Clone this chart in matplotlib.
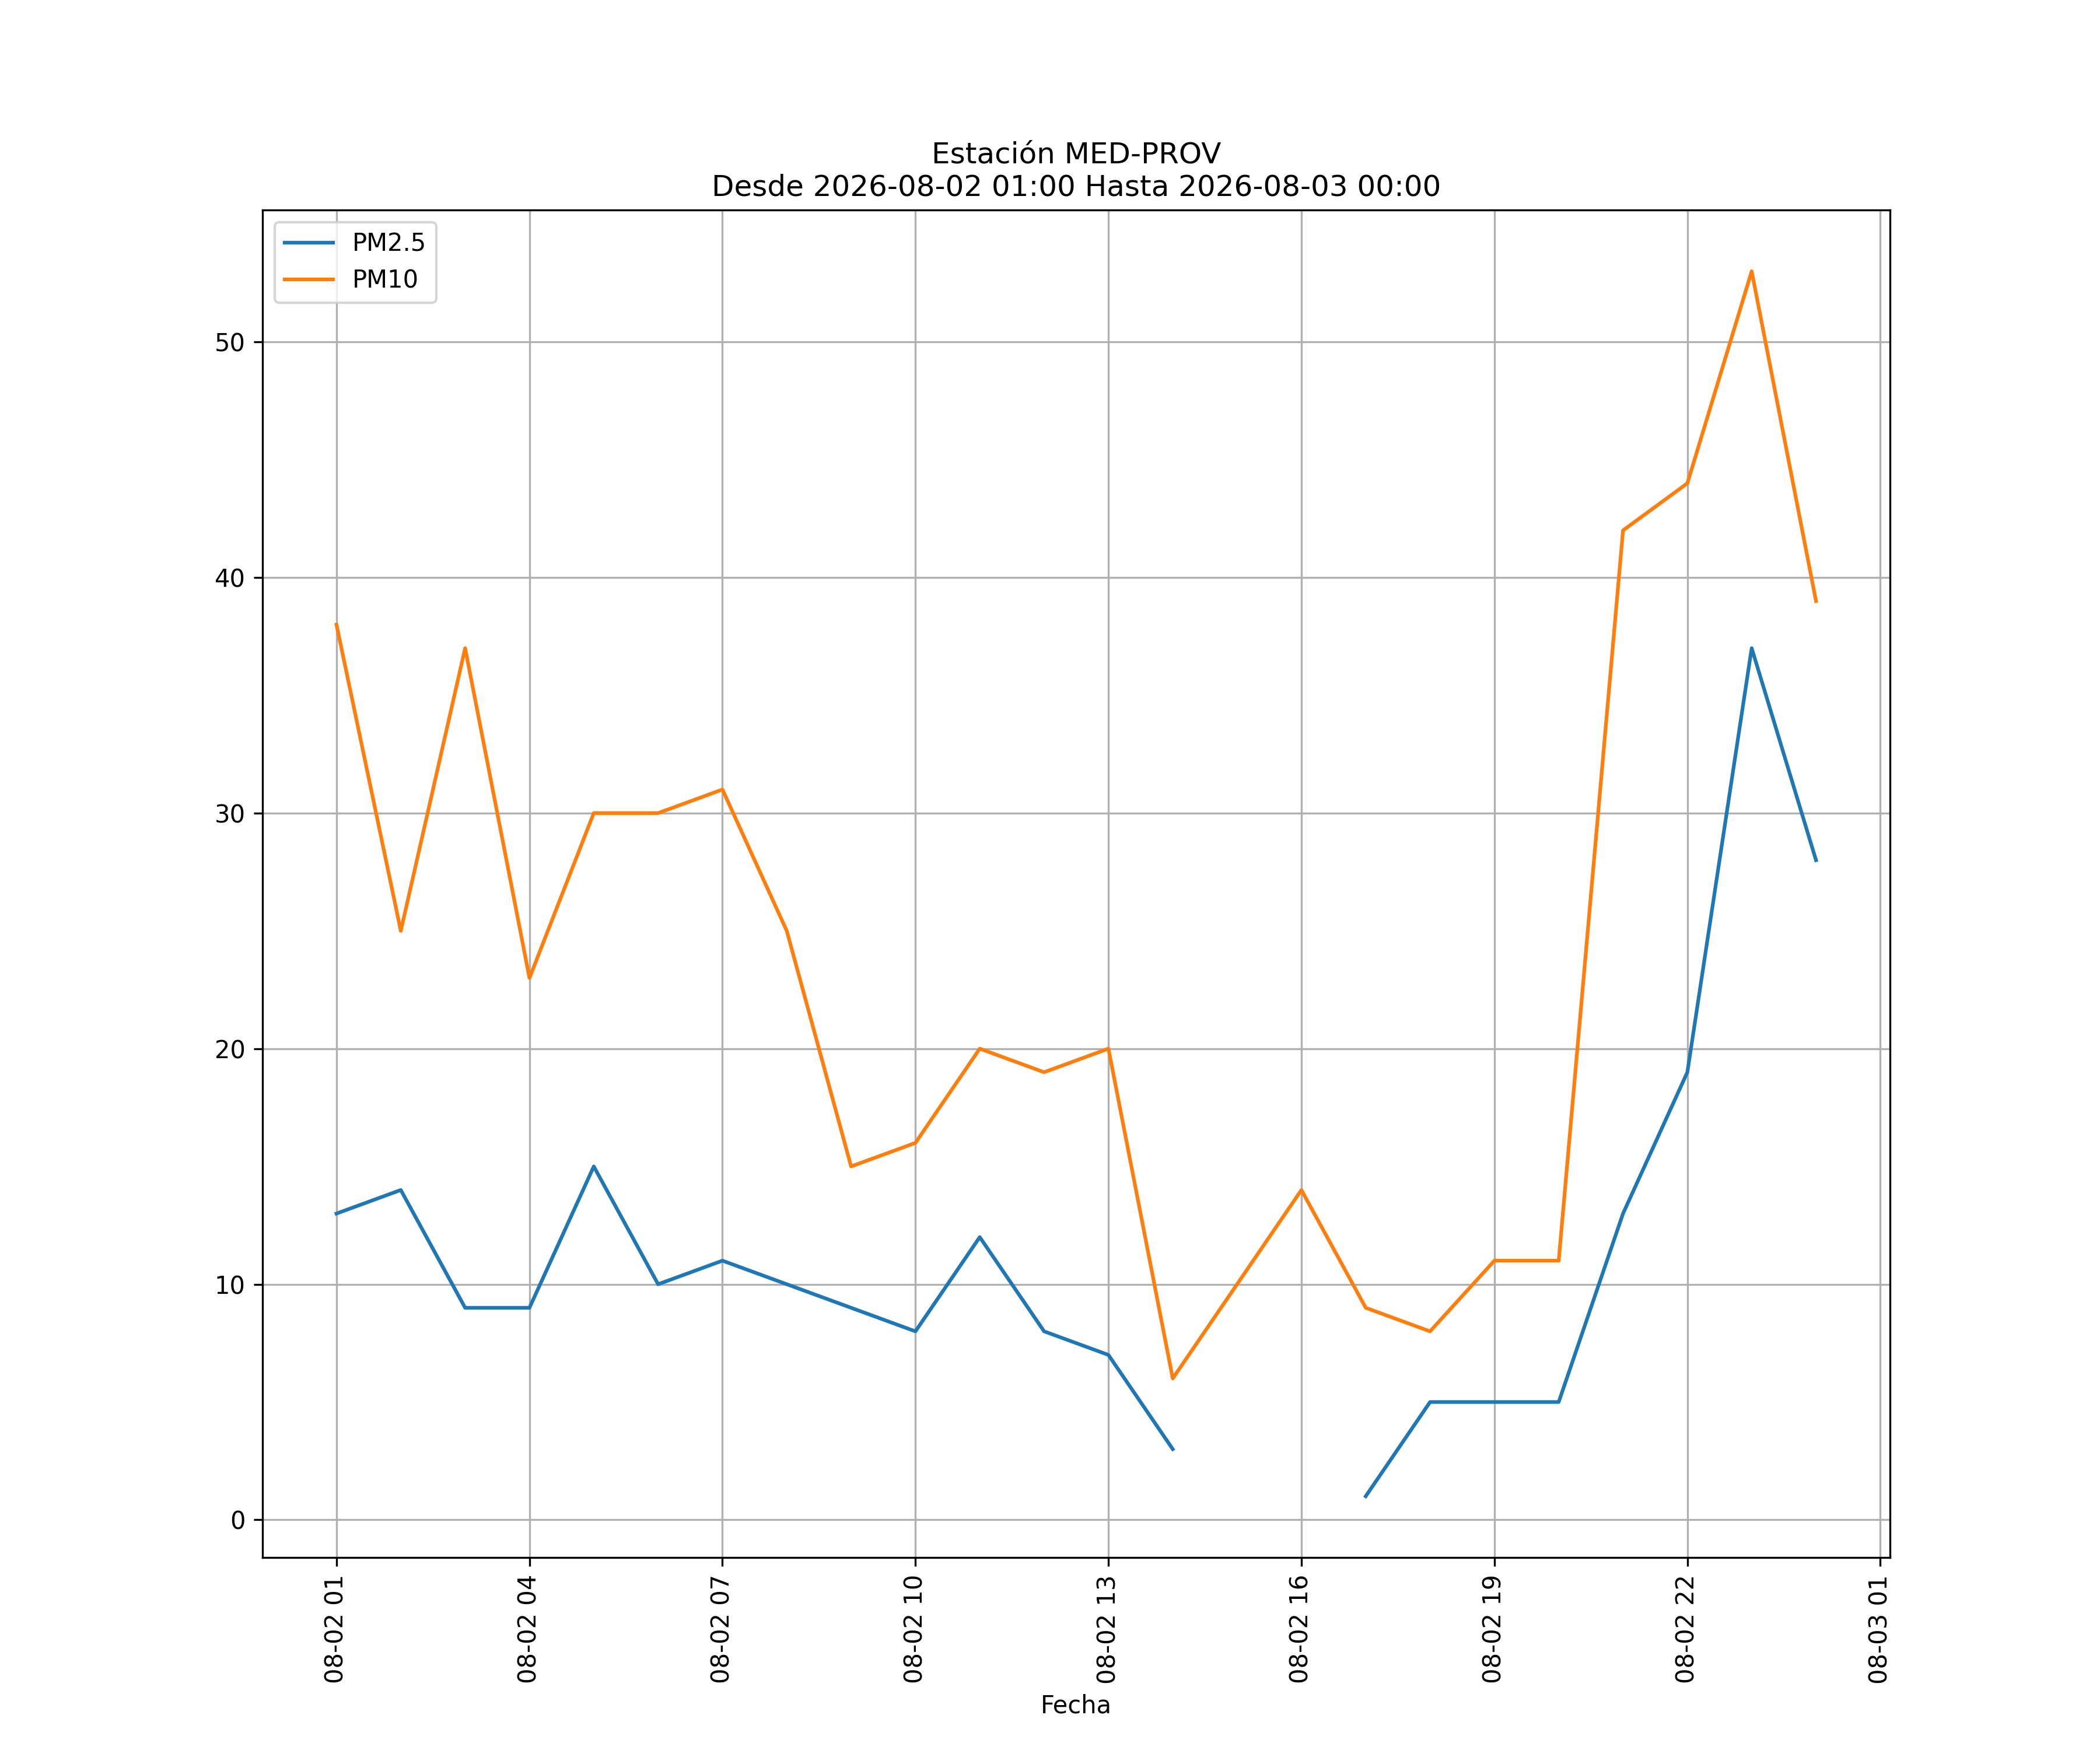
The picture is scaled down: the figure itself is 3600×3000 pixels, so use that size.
import pandas as pd
import numpy as np
import matplotlib
matplotlib.use("Agg")
import matplotlib.pyplot as plt
import matplotlib.dates as mdates

# Hourly readings, 2026-08-02 01:00 .. 2026-08-03 00:00
fechas = pd.date_range("2026-08-02 01:00", "2026-08-03 00:00", freq="h")
pm25 = [13, 14, 9, 9, 15, 10, 11, 10, 9, 8, 12, 8, 7, 3,
        np.nan, np.nan, 1, 5, 5, 5, 13, 19, 37, 28]
pm10 = [38, 25, 37, 23, 30, 30, 31, 25, 15, 16, 20, 19, 20, 6,
        10, 14, 9, 8, 11, 11, 42, 44, 53, 39]

fig, ax = plt.subplots(figsize=(12, 10))

ax.plot(fechas, pm25, label="PM2.5")
ax.plot(fechas, pm10, label="PM10")

ax.xaxis.set_major_locator(mdates.HourLocator(byhour=range(1, 24, 3)))
ax.xaxis.set_major_formatter(mdates.DateFormatter("%m-%d %H"))
plt.setp(ax.get_xticklabels(), rotation=90)

ax.set_title("Estación MED-PROV\nDesde 2026-08-02 01:00 Hasta 2026-08-03 00:00")
ax.set_xlabel("Fecha")
ax.grid(True)
ax.legend(loc="upper left")

fig.savefig("out.png", dpi=300)
